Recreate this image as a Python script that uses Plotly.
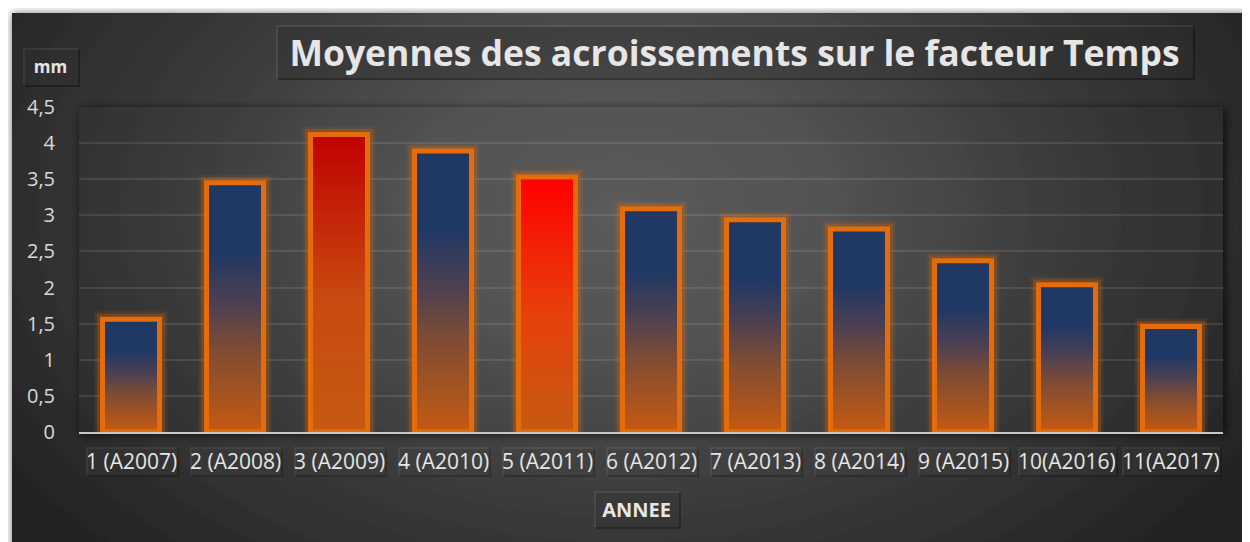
import base64
import plotly.graph_objects as go

# Données
categories = ["1 (A2007)", "2 (A2008)", "3 (A2009)", "4 (A2010)", "5 (A2011)", "6 (A2012)",
              "7 (A2013)", "8 (A2014)", "9 (A2015)", "10(A2016)", "11(A2017)"]
moyennes = [1.56, 3.45, 4.12, 3.89, 3.53, 3.09, 2.94, 2.81, 2.37, 2.04, 1.46]
y_ticks = [0, 0.5, 1, 1.5, 2, 2.5, 3, 3.5, 4, 4.5]
y_tick_labels = ["0", "0,5", "1", "1,5", "2", "2,5", "3", "3,5", "4", "4,5"]

title_text = "Moyennes des acroissements sur le facteur Temps"
y_unit = "mm"
x_title = "ANNEE"

# Mise en page (pixels de la page ; la page HTML décale la figure de 8 px)
OFF = 8
W, H = 1250 - OFF, 542 - OFF
PLOT_L, PLOT_R, PLOT_T, PLOT_B = 79, 1223, 107, 432   # zone de tracé sur la page
ML, MT = PLOT_L - OFF, PLOT_T - OFF
MR, MB = W - (PLOT_R - OFF), H - (PLOT_B - OFF)
PW, PH = PLOT_R - PLOT_L, PLOT_B - PLOT_T

# Dégradés des barres (0 = bas, 1 = haut)
blue_scale = [[0, "#C55A11"], [0.33, "#7F4C34"], [0.52, "#4C4052"], [0.72, "#203864"], [1, "#203864"]]
red_scales = {
    2: [[0, "#C55A11"], [0.45, "#C84A10"], [1, "#C00000"]],
    4: [[0, "#C55A11"], [0.45, "#E6420C"], [1, "#FF0000"]],
}
border = "#E46C0A"
half = 0.274

fig = go.Figure()

for i, v in enumerate(moyennes):
    xs = [i - half, i - half, i + half, i + half, i - half]
    ys = [0, v, v, 0, 0]
    # halo orange
    for w, a in [(16, 0.12), (11, 0.25)]:
        fig.add_trace(go.Scatter(x=xs, y=ys, mode="lines",
                                 line=dict(color=f"rgba(228,108,10,{a})", width=w),
                                 hoverinfo="skip", showlegend=False))
    fig.add_trace(go.Scatter(x=xs, y=ys, mode="lines", fill="toself",
                             fillgradient=dict(type="vertical", colorscale=red_scales.get(i, blue_scale)),
                             line=dict(color=border, width=5),
                             name=categories[i], text=[f"{v:.2f}".replace(".", ",")] * 5,
                             hoverinfo="name+text", showlegend=False))

# Fond : carte sombre en dégradé radial + zone de tracé avec ombre (coordonnées de la figure)
cx, cy = 620 - OFF, 210 - OFF
svg = f'''<svg xmlns="http://www.w3.org/2000/svg" width="{W}" height="{H}" viewBox="0 0 {W} {H}" preserveAspectRatio="none">
<defs>
<radialGradient id="g" gradientUnits="userSpaceOnUse" cx="{cx}" cy="{cy}" r="720"
 gradientTransform="translate({cx} {cy}) scale(1 0.667) translate({-cx} {-cy})">
<stop offset="0" stop-color="#5b5b5b"/>
<stop offset="0.3" stop-color="#525252"/>
<stop offset="0.6" stop-color="#3c3c3c"/>
<stop offset="1" stop-color="#242424"/>
</radialGradient>
<filter id="s1" x="-5%" y="-5%" width="110%" height="110%">
<feDropShadow dx="0" dy="0" stdDeviation="4" flood-color="#000" flood-opacity="0.55"/>
</filter>
<filter id="s2" x="-5%" y="-10%" width="110%" height="120%">
<feDropShadow dx="2" dy="2" stdDeviation="5" flood-color="#000" flood-opacity="0.8"/>
</filter>
</defs>
<rect width="{W}" height="{H}" fill="#ffffff"/>
<rect x="{12 - OFF}" y="{13 - OFF}" width="{W + 20}" height="{H + 20}" fill="url(#g)" filter="url(#s1)"/>
<rect x="{ML}" y="{MT}" width="{PW}" height="{PH}" fill="url(#g)" filter="url(#s2)"/>
</svg>'''
bg = "data:image/svg+xml;base64," + base64.b64encode(svg.encode()).decode()
fig.add_layout_image(dict(source=bg, xref="paper", yref="paper", x=-ML / PW, y=1 + MT / PH,
                          sizex=W / PW, sizey=H / PH, xanchor="left", yanchor="top",
                          sizing="stretch", layer="below"))


def px_x(px):
    return (px - PLOT_L) / PW


def px_y(py):
    return (PLOT_B - py) / PH


def boxed(text, x, y, xref, size, bold=False, width=None, height=None, shadow=0.3):
    weight = 700 if bold else 400
    common = dict(x=x, y=y, xref=xref, yref="paper", xanchor="center", yanchor="middle",
                  showarrow=False, borderpad=0, borderwidth=0, text=text,
                  width=width, height=height)
    fig.add_annotation(**common, xshift=2, yshift=-2, bgcolor=f"rgba(0,0,0,{shadow})",
                       font=dict(family="Open Sans", size=size, color="rgba(0,0,0,0)", weight=weight))
    fig.add_annotation(**common, bgcolor="rgba(255,255,255,0.07)",
                       font=dict(family="Open Sans", size=size, color="#e6e6e6", weight=weight))


boxed(title_text, px_x(734.5), px_y(51.5), "paper", 35.5, bold=True, width=917, height=53, shadow=0.35)
boxed(y_unit, px_x(50.5), px_y(66.5), "paper", 17, bold=True, width=55, height=37)
boxed(x_title, px_x(636.5), px_y(509), "paper", 20, bold=True, width=85, height=36)
for i, c in enumerate(categories):
    boxed(c, i, px_y(461), "x", 21, height=28, shadow=0.2)

fig.update_layout(
    width=W, height=H, autosize=False, template="none",
    margin=dict(l=ML, r=MR, t=MT, b=MB, pad=0),
    paper_bgcolor="#ffffff", plot_bgcolor="rgba(0,0,0,0)",
    separators=", ", showlegend=False,
    xaxis=dict(range=[-0.5, len(categories) - 0.5], showticklabels=False, showgrid=False,
               zeroline=False, showline=True, linecolor="#c8c8c8", linewidth=2, ticks="",
               fixedrange=True),
    yaxis=dict(range=[0, 4.5], tickvals=y_ticks, ticktext=y_tick_labels, showgrid=True,
               gridcolor="rgba(255,255,255,0.1)", gridwidth=1.5, zeroline=False,
               showline=False, ticks="", ticklabelstandoff=23, fixedrange=True,
               tickfont=dict(family="Open Sans", size=20, color="#d9d9d9")),
)

fig.write_html("out.html")
